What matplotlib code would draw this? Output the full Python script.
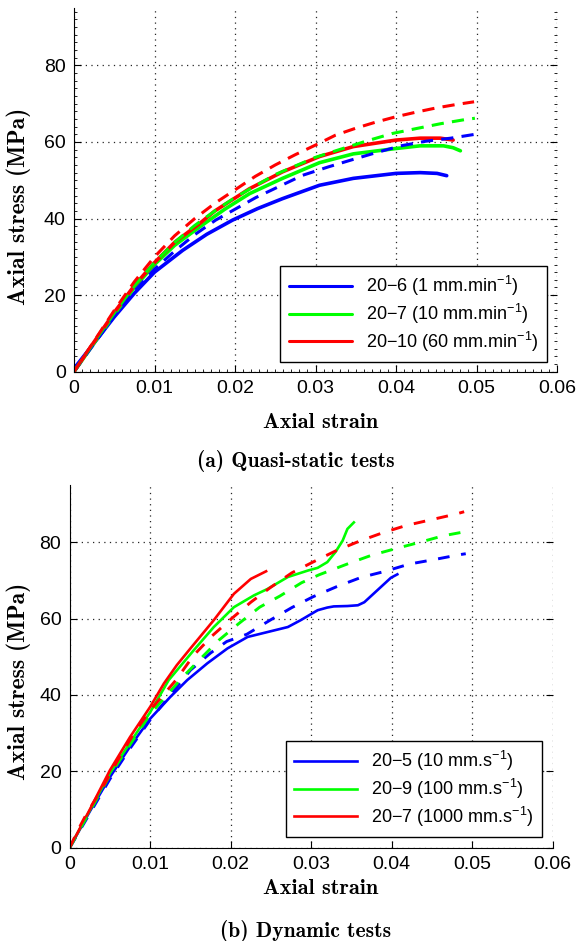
import matplotlib
matplotlib.use('Agg')
import matplotlib.pyplot as plt
from matplotlib.ticker import MultipleLocator

plt.rcParams['font.family'] = ['Liberation Sans', 'DejaVu Sans']
plt.rcParams['mathtext.fontset'] = 'custom'
plt.rcParams['mathtext.rm'] = 'Liberation Sans'
plt.rcParams['mathtext.it'] = 'Liberation Sans:italic'
plt.rcParams['mathtext.default'] = 'regular'

# ---- (a) quasi-static tests: experiment (solid) and model (dashed) ----
qs_labels = ['20\u22126 (1 mm.min$^{-1}$)', '20\u22127 (10 mm.min$^{-1}$)',
             '20\u221210 (60 mm.min$^{-1}$)']

qs_b_x = [0, .0025, .005, .0075, .01, .0135, .0165, .0197, .0228, .0259, .0305, .0347, .04, .043, .0451, .0463]
qs_b_y = [0.8, 7.5, 14.3, 20.5, 26.0, 31.7, 35.9, 39.6, 42.6, 45.2, 48.7, 50.5, 51.8, 52.0, 51.8, 51.2]
qs_g_x = [0, .0025, .005, .0075, .01, .0125, .0156, .0187, .0218, .0259, .0305, .0347, .04, .043, .0459, .0471, .048]
qs_g_y = [0, 7.5, 15.0, 22.0, 28.0, 33.0, 37.8, 42.4, 46.5, 50.5, 54.6, 56.9, 58.3, 59.0, 59.0, 58.5, 57.7]
qs_r_x = [0, .0025, .005, .0075, .01, .0125, .0156, .0175, .0218, .0259, .0305, .0347, .04, .043, .0455, .0471]
qs_r_y = [0, 7.8, 15.5, 22.5, 28.5, 33.8, 38.7, 42.0, 47.8, 52.2, 56.2, 58.8, 60.5, 61.0, 61.0, 60.5]

qs_bm_x = [0, .0025, .005, .0075, .01, .0125, .015, .0176, .0226, .0284, .0316, .0346, .0375, .0406, .0437, .0468, .0498]
qs_bm_y = [0, 7.3, 14.5, 21.0, 26.8, 31.5, 35.8, 39.6, 45.5, 51.3, 53.5, 55.4, 57.2, 59.0, 60.2, 61.0, 62.0]
qs_gm_x = [0, .0025, .005, .0075, .01, .0125, .015, .0175, .02, .025, .03, .0334, .0364, .0395, .0425, .0456, .0487, .0498]
qs_gm_y = [0, 7.7, 15.3, 22.5, 28.5, 33.8, 38.2, 42.0, 45.5, 51.5, 56.0, 58.3, 60.3, 62.2, 63.5, 64.8, 65.9, 66.2]
qs_rm_x = [0, .0025, .005, .0075, .01, .0125, .015, .0175, .02, .0225, .025, .0275, .03, .0325, .035, .0375, .04, .0425, .045, .0475, .0497]
qs_rm_y = [0, 8.0, 16.0, 23.5, 30.0, 35.5, 40.0, 44.0, 47.5, 51.0, 54.0, 56.7, 59.2, 61.8, 63.6, 65.2, 66.6, 67.8, 68.9, 69.8, 70.5]

# ---- (b) dynamic tests ----
dy_labels = ['20\u22125 (10 mm.s$^{-1}$)', '20\u22129 (100 mm.s$^{-1}$)',
             '20\u22127 (1000 mm.s$^{-1}$)']

dy_b_x = [0, .0025, .005, .0075, .01, .0125, .0146, .0171, .0196, .0221, .0246, .0271, .0287, .0308, .032, .0328, .0345, .0358, .0366, .0382, .0399, .0407]
dy_b_y = [0, 9.5, 18.5, 26.5, 33.8, 39.5, 43.9, 48.3, 52.2, 55.2, 56.5, 57.8, 59.6, 62.2, 62.9, 63.2, 63.3, 63.5, 64.3, 67.4, 70.7, 71.6]
dy_g_x = [0, .0025, .005, .0075, .01, .0123, .0154, .0179, .0204, .0229, .0246, .0271, .0296, .0308, .032, .033, .0339, .0345, .0353]
dy_g_y = [0, 9.8, 19.5, 27.5, 35.5, 43.9, 51.7, 57.8, 63.0, 66.1, 67.8, 70.9, 72.6, 73.3, 74.8, 77.4, 80.4, 83.5, 85.2]
dy_r_x = [0, .001, .0025, .005, .0075, .01, .0117, .0133, .015, .0179, .0204, .0225, .0244]
dy_r_y = [0, 4.0, 10.0, 20.3, 29.0, 36.9, 43.0, 47.8, 52.2, 59.6, 66.5, 70.4, 72.4]

dy_bm_x = [0, .0025, .005, .0075, .01, .0125, .015, .0175, .0195, .022, .0249, .0276, .0303, .0332, .0362, .0392, .0422, .0451, .0483, .0492]
dy_bm_y = [0, 9.0, 18.0, 26.0, 33.5, 40.0, 46.5, 51.0, 54.0, 55.9, 59.6, 62.9, 65.8, 68.4, 70.8, 72.4, 74.3, 75.4, 76.7, 77.0]
dy_gm_x = [0, .0025, .005, .0075, .01, .014, .0163, .0185, .021, .0236, .0261, .0288, .031, .0346, .0375, .0406, .0435, .0464, .0492, .0498]
dy_gm_y = [0, 9.5, 19.0, 27.0, 35.0, 44.6, 49.6, 54.3, 58.7, 63.0, 65.9, 69.4, 71.5, 74.4, 76.6, 78.4, 80.0, 81.7, 82.8, 83.1]
dy_rm_x = [0, .001, .002, .004, .006, .008, .01, .0132, .0154, .0177, .0201, .0225, .0249, .0276, .0302, .033, .036, .0389, .0418, .0449, .048, .049]
dy_rm_y = [0, 4.5, 8.5, 15.5, 23.0, 30.0, 36.0, 43.9, 50.4, 55.5, 60.0, 64.3, 68.1, 72.0, 74.8, 77.7, 80.3, 82.5, 84.4, 85.9, 87.4, 88.0]

colors = ['#0000ff', '#00ff00', '#ff0000']

fig = plt.figure(figsize=(5.79, 9.41), dpi=100)
ax1 = fig.add_axes([74 / 579, 1 - 371.7 / 941, 483 / 579, 363.7 / 941])
ax2 = fig.add_axes([69.7 / 579, 1 - 847.7 / 941, 483 / 579, 362.7 / 941])


def style(ax, minor):
    ax.set_xlim(0, 0.06)
    ax.set_ylim(0, 95)
    ax.set_xticks([0, 0.01, 0.02, 0.03, 0.04, 0.05, 0.06])
    ax.set_xticklabels(['0', '0.01', '0.02', '0.03', '0.04', '0.05', '0.06'])
    ax.set_yticks([0, 20, 40, 60, 80])
    ax.spines['top'].set_visible(False)
    ax.spines['right'].set_visible(False)
    ax.grid(True, color='0.15', linestyle=(0, (1, 3.5)), linewidth=0.9)
    ax.tick_params(direction='in', length=5, width=0.8, labelsize=14, right=True, top=False, pad=6)
    if minor:
        ax.xaxis.set_minor_locator(MultipleLocator(0.001))
        ax.yaxis.set_minor_locator(MultipleLocator(2))
        ax.tick_params(which='minor', direction='in', length=2.5, width=0.6, right=True, top=False)
    ax.set_axisbelow(True)


def legend(ax, handles, anchor):
    leg = ax.legend(handles=handles, loc='lower right', bbox_to_anchor=anchor,
                    fontsize=13, handlelength=3.5, borderpad=0.45, labelspacing=0.2,
                    borderaxespad=0, fancybox=False, framealpha=1, edgecolor='black')
    leg.get_frame().set_linewidth(1.0)
    return leg


# top panel
qs_exp = [(qs_b_x, qs_b_y), (qs_g_x, qs_g_y), (qs_r_x, qs_r_y)]
qs_mod = [(qs_bm_x, qs_bm_y), (qs_gm_x, qs_gm_y), (qs_rm_x, qs_rm_y)]
handles = []
for (x, y), c, lab in zip(qs_exp, colors, qs_labels):
    h, = ax1.plot(x, y, color=c, lw=2.6, label=lab, solid_capstyle='round')
    handles.append(h)
for (x, y), c in zip(qs_mod, colors):
    ax1.plot(x, y, color=c, lw=2.2, dashes=(4, 2.7))
style(ax1, True)
leg = legend(ax1, handles, (0.979, 0.027))
for l in leg.get_lines():
    l.set_linewidth(2.2)

# bottom panel
dy_exp = [(dy_b_x, dy_b_y), (dy_g_x, dy_g_y), (dy_r_x, dy_r_y)]
dy_mod = [(dy_bm_x, dy_bm_y), (dy_gm_x, dy_gm_y), (dy_rm_x, dy_rm_y)]
handles = []
for (x, y), c, lab in zip(dy_exp, colors, dy_labels):
    h, = ax2.plot(x, y, color=c, lw=1.9, label=lab)
    handles.append(h)
for (x, y), c in zip(dy_mod, colors):
    ax2.plot(x, y, color=c, lw=2.1, dashes=(4, 4))
style(ax2, False)
legend(ax2, handles, (0.978, 0.03))

ylab = dict(family='cmb10', fontsize=17)
xlab = dict(family='cmb10', fontsize=16)
cap = dict(family='cmb10', fontsize=15.5)
fig.text(19 / 579, 1 - 206 / 941, 'Axial stress (MPa)', rotation=90, ha='center', va='center', **ylab)
fig.text(321 / 579, 1 - 423 / 941, 'Axial strain', ha='center', va='center', **xlab)
fig.text(296 / 579, 1 - 461 / 941, '(a) Quasi-static tests', ha='center', va='center', **cap)
fig.text(19 / 579, 1 - 681 / 941, 'Axial stress (MPa)', rotation=90, ha='center', va='center', **ylab)
fig.text(321 / 579, 1 - 889 / 941, 'Axial strain', ha='center', va='center', **xlab)
fig.text(306 / 579, 1 - 931 / 941, '(b) Dynamic tests', ha='center', va='center', **cap)

fig.savefig('out.png', dpi=100)
